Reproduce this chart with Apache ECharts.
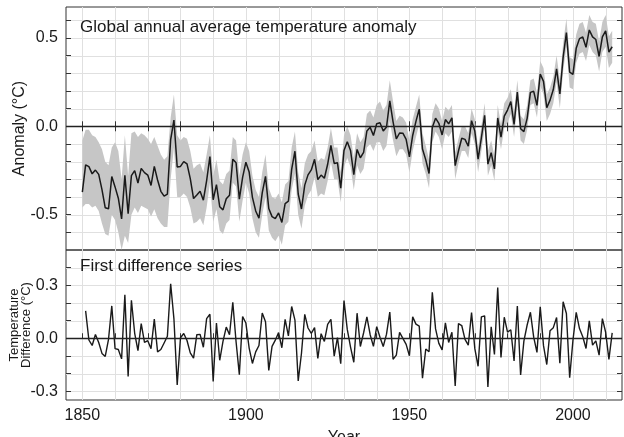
<!DOCTYPE html>
<html>
<head>
<meta charset="utf-8">
<script src="https://cdn.jsdelivr.net/npm/echarts@6/dist/echarts.min.js"></script>
<style>
html, body { margin: 0; padding: 0; background: #fff; }
#main { width: 624px; height: 437px; }
</style>
</head>
<body>
<div id="main"></div>
<script>
var firstYear = 1850;

// annual anomaly (°C), 1850..2012
var anomaly = [
  -0.373,-0.218,-0.228,-0.269,-0.248,-0.272,-0.358,-0.461,-0.467,-0.284,
  -0.343,-0.407,-0.524,-0.278,-0.494,-0.279,-0.251,-0.321,-0.238,-0.262,
  -0.276,-0.335,-0.227,-0.304,-0.368,-0.395,-0.384,-0.075,0.035,-0.230,
  -0.227,-0.200,-0.213,-0.296,-0.409,-0.389,-0.367,-0.418,-0.307,-0.171,
  -0.416,-0.330,-0.455,-0.473,-0.410,-0.390,-0.186,-0.206,-0.412,-0.289,
  -0.203,-0.259,-0.402,-0.479,-0.520,-0.377,-0.283,-0.465,-0.511,-0.522,
  -0.490,-0.544,-0.437,-0.424,-0.244,-0.141,-0.383,-0.468,-0.333,-0.275,
  -0.247,-0.187,-0.302,-0.276,-0.294,-0.215,-0.108,-0.210,-0.206,-0.350,
  -0.137,-0.087,-0.137,-0.273,-0.131,-0.178,-0.147,-0.026,-0.006,-0.052,
  0.014,0.020,-0.027,-0.004,0.144,0.025,-0.071,-0.038,-0.039,-0.074,
  -0.173,-0.052,0.028,0.097,-0.129,-0.190,-0.267,-0.007,0.046,0.017,
  -0.049,0.038,0.014,0.048,-0.223,-0.140,-0.068,-0.074,-0.113,0.032,
  -0.027,-0.186,-0.065,0.062,-0.214,-0.149,-0.241,0.047,-0.062,0.057,
  0.092,0.140,0.011,0.194,-0.014,-0.030,0.045,0.192,0.198,0.118,
  0.296,0.254,0.105,0.148,0.208,0.325,0.183,0.390,0.530,0.306,
  0.294,0.441,0.496,0.505,0.447,0.545,0.506,0.491,0.395,0.506,
  0.540,0.420,0.450
];

// uncertainty band, lower / upper edge
var bandLow = [
  -0.46,-0.44,-0.44,-0.46,-0.45,-0.48,-0.55,-0.61,-0.62,-0.50,
  -0.53,-0.60,-0.70,-0.62,-0.66,-0.50,-0.46,-0.49,-0.45,-0.46,
  -0.47,-0.51,-0.47,-0.52,-0.55,-0.57,-0.57,-0.30,-0.12,-0.40,
  -0.40,-0.38,-0.40,-0.46,-0.55,-0.54,-0.52,-0.56,-0.46,-0.32,
  -0.54,-0.47,-0.59,-0.61,-0.55,-0.53,-0.32,-0.34,-0.54,-0.42,
  -0.32,-0.38,-0.52,-0.60,-0.63,-0.50,-0.40,-0.59,-0.63,-0.65,
  -0.62,-0.67,-0.56,-0.54,-0.36,-0.27,-0.50,-0.58,-0.45,-0.39,
  -0.36,-0.29,-0.40,-0.38,-0.39,-0.31,-0.20,-0.30,-0.30,-0.43,
  -0.23,-0.18,-0.23,-0.36,-0.22,-0.27,-0.24,-0.12,-0.10,-0.14,
  -0.09,-0.09,-0.14,-0.11,0.03,-0.08,-0.17,-0.13,-0.13,-0.16,
  -0.26,-0.14,-0.06,0.01,-0.21,-0.27,-0.35,-0.09,-0.03,-0.06,
  -0.13,-0.04,-0.06,-0.03,-0.30,-0.21,-0.14,-0.14,-0.18,-0.04,
  -0.10,-0.26,-0.14,-0.01,-0.28,-0.22,-0.31,-0.02,-0.13,-0.01,
  0.02,0.07,-0.06,0.12,-0.08,-0.10,-0.02,0.12,0.13,0.05,
  0.23,0.18,0.03,0.07,0.13,0.25,0.10,0.31,0.45,0.22,
  0.21,0.36,0.41,0.42,0.37,0.46,0.42,0.40,0.31,0.42,
  0.45,0.33,0.36
];
var bandHigh = [
  -0.08,-0.02,-0.02,-0.05,-0.06,-0.09,-0.13,-0.20,-0.22,-0.12,
  -0.09,-0.14,-0.30,-0.05,-0.28,-0.04,-0.03,-0.06,-0.04,-0.05,
  -0.07,-0.10,-0.06,-0.11,-0.16,-0.19,-0.17,0.05,0.18,-0.05,
  -0.08,-0.06,-0.07,-0.14,-0.24,-0.22,-0.21,-0.26,-0.16,-0.05,
  -0.28,-0.19,-0.31,-0.33,-0.27,-0.25,-0.06,-0.08,-0.28,-0.16,
  -0.09,-0.14,-0.28,-0.36,-0.40,-0.26,-0.16,-0.35,-0.40,-0.41,
  -0.38,-0.43,-0.33,-0.31,-0.12,-0.03,-0.26,-0.35,-0.21,-0.16,
  -0.14,-0.08,-0.20,-0.18,-0.19,-0.12,-0.01,-0.12,-0.12,-0.26,
  -0.05,0.00,-0.05,-0.18,-0.04,-0.09,-0.06,0.07,0.09,0.05,
  0.12,0.14,0.09,0.12,0.26,0.14,0.03,0.06,0.05,0.02,
  -0.08,0.04,0.11,0.18,-0.04,-0.11,-0.19,0.07,0.13,0.10,
  0.03,0.11,0.09,0.12,-0.15,-0.07,0.00,0.00,-0.04,0.10,
  0.04,-0.12,0.00,0.13,-0.14,-0.08,-0.17,0.12,0.01,0.13,
  0.16,0.21,0.08,0.26,0.06,0.04,0.12,0.26,0.27,0.19,
  0.37,0.33,0.18,0.22,0.28,0.40,0.26,0.47,0.61,0.39,
  0.38,0.52,0.58,0.59,0.53,0.63,0.59,0.58,0.48,0.59,
  0.63,0.51,0.54
];

// first difference series, 1851..2012
var diffYear0 = 1851;
var difference = [
  0.155,-0.010,-0.041,0.021,-0.024,-0.086,-0.103,-0.006,0.183,-0.059,
  -0.064,-0.117,0.246,-0.216,0.215,0.028,-0.070,0.083,-0.024,-0.014,
  -0.059,0.108,-0.077,-0.064,-0.027,0.011,0.309,0.110,-0.265,0.003,
  0.027,-0.013,-0.083,-0.113,0.020,0.022,-0.051,0.111,0.136,-0.245,
  0.086,-0.125,-0.018,0.063,0.020,0.204,-0.020,-0.206,0.123,0.086,
  -0.056,-0.143,-0.077,-0.041,0.143,0.094,-0.182,-0.046,-0.011,0.032,
  -0.054,0.107,0.013,0.180,0.103,-0.242,-0.085,0.135,0.058,0.028,
  0.060,-0.115,0.026,-0.018,0.079,0.107,-0.102,0.004,-0.144,0.213,
  0.050,-0.050,-0.136,0.142,-0.047,0.031,0.121,0.020,-0.046,0.066,
  0.006,-0.047,0.023,0.148,-0.119,-0.096,0.033,-0.001,-0.035,-0.099,
  0.121,0.080,0.069,-0.226,-0.061,-0.077,0.260,0.053,-0.029,-0.066,
  0.087,-0.024,0.034,-0.271,0.083,0.072,-0.006,-0.039,0.145,-0.059,
  -0.159,0.121,0.127,-0.276,0.065,-0.092,0.288,-0.109,0.119,0.035,
  0.048,-0.129,0.183,-0.208,-0.016,0.075,0.147,0.006,-0.080,0.178,
  -0.042,-0.149,0.043,0.060,0.117,-0.142,0.207,0.140,-0.224,-0.012,
  0.147,0.055,0.009,-0.058,0.098,-0.039,-0.015,-0.096,0.111,0.034,
  -0.120,0.030
];

var xTicks = [1850, 1860, 1870, 1880, 1890, 1900, 1910, 1920, 1930, 1940, 1950, 1960, 1970, 1980, 1990, 2000, 2010];
var xLabels = [1850, 1900, 1950, 2000];
var topTicks = [-0.6, -0.5, -0.4, -0.3, -0.2, -0.1, 0, 0.1, 0.2, 0.3, 0.4, 0.5, 0.6];
var topLabels = [-0.5, 0, 0.5];
var botTicks = [-0.3, -0.2, -0.1, 0, 0.1, 0.2, 0.3, 0.4];
var botLabels = [-0.3, 0, 0.3];

var X_MIN = 1845, X_MAX = 2015;
var TOP_MIN = -0.7, TOP_MAX = 0.675;
var BOT_MIN = -0.35, BOT_MAX = 0.5;

var FONT = 'Liberation Sans, Arial, Helvetica, sans-serif';
var INK = '#1a1a1a';
var GRIDC = '#e0e0e0';

var anomalyPts = [], diffPts = [];
for (var i = 0; i < anomaly.length; i++) anomalyPts.push([firstYear + i, anomaly[i]]);
for (var k = 0; k < difference.length; k++) diffPts.push([diffYear0 + k, difference[k]]);

function xAx(grid, pos, labels, name) {
  return {
    type: 'value', gridIndex: grid, position: pos, min: X_MIN, max: X_MAX,
    axisLine: { show: false },
    axisTick: { show: true, inside: true, length: 5, customValues: xTicks, lineStyle: { color: '#333' } },
    axisLabel: labels ? {
      show: true, customValues: labels, margin: 8, color: INK, fontFamily: FONT, fontSize: 16,
      formatter: function (v) { return String(v); }
    } : { show: false },
    splitLine: { show: false },
    name: name || '', nameLocation: 'middle', nameGap: 30, nameMoveOverlap: false,
    nameTextStyle: { color: INK, fontFamily: FONT, fontSize: 16 }
  };
}
function yAx(grid, pos, min, max, ticks, labels, name, nameStyle, gap) {
  return {
    type: 'value', gridIndex: grid, position: pos, min: min, max: max,
    axisLine: { show: false },
    axisTick: { show: true, inside: true, length: 5, customValues: ticks, lineStyle: { color: '#333' } },
    axisLabel: labels ? {
      show: true, customValues: labels, margin: 8, color: INK, fontFamily: FONT, fontSize: 16,
      formatter: function (v) { return v.toFixed(1); }
    } : { show: false },
    splitLine: { show: false },
    name: name || '', nameLocation: 'middle', nameRotate: 90, nameGap: gap || 30, nameMoveOverlap: false,
    nameTextStyle: nameStyle || {}
  };
}

// light grid lines at the tick values, drawn under the band
function gridLines(xi, yi, xs, ys, ymin, ymax) {
  var data = [];
  xs.forEach(function (v) { data.push([v, 0]); });
  ys.forEach(function (v) { data.push([v, 1]); });
  return {
    type: 'custom', xAxisIndex: xi, yAxisIndex: yi, silent: true, z: 0,
    data: data,
    renderItem: function (params, api) {
      var v = api.value(0), p0, p1;
      if (api.value(1) === 0) {
        p0 = api.coord([v, ymin]); p1 = api.coord([v, ymax]);
        var x = Math.round(p0[0]) + 0.5;
        return { type: 'line', shape: { x1: x, y1: p0[1], x2: x, y2: p1[1] }, style: { stroke: GRIDC, lineWidth: 1 } };
      }
      p0 = api.coord([X_MIN, v]); p1 = api.coord([X_MAX, v]);
      var y = Math.round(p0[1]) + 0.5;
      return { type: 'line', shape: { x1: p0[0], y1: y, x2: p1[0], y2: y }, style: { stroke: GRIDC, lineWidth: 1 } };
    }
  };
}

var zeroLine = {
  silent: true, symbol: 'none', label: { show: false },
  lineStyle: { color: '#222', width: 1.3, type: 'solid' },
  data: [{ yAxis: 0 }]
};

var chart = echarts.init(document.getElementById('main'), null, { renderer: 'canvas' });
chart.setOption({
  animation: false,
  backgroundColor: '#fff',
  grid: [
    { left: 66, right: 2, top: 7, height: 243, show: true, borderColor: '#333', borderWidth: 1, outerBoundsMode: 'none' },
    { left: 66, right: 2, top: 250, height: 150, show: true, borderColor: '#333', borderWidth: 1, outerBoundsMode: 'none' }
  ],
  graphic: [
    { type: 'text', left: 80, top: 19, z: 10, style: { text: 'Global annual average temperature anomaly', font: '17px ' + FONT, fill: INK } },
    { type: 'text', left: 80, top: 258, z: 10, style: { text: 'First difference series', font: '17px ' + FONT, fill: INK } }
  ],
  xAxis: [
    xAx(0, 'bottom', null),
    xAx(0, 'top', null),
    xAx(1, 'bottom', xLabels, 'Year')
  ],
  yAxis: [
    yAx(0, 'left', TOP_MIN, TOP_MAX, topTicks, topLabels, 'Anomaly (°C)',
      { color: INK, fontFamily: FONT, fontSize: 16 }, 38),
    yAx(0, 'right', TOP_MIN, TOP_MAX, topTicks, null),
    yAx(1, 'left', BOT_MIN, BOT_MAX, botTicks, botLabels, 'Temperature\nDifference (°C)',
      { color: INK, fontFamily: FONT, fontSize: 13, lineHeight: 12 }, 34),
    yAx(1, 'right', BOT_MIN, BOT_MAX, botTicks, null)
  ],
  series: [
    gridLines(0, 0, xTicks, topTicks, TOP_MIN, TOP_MAX),
    gridLines(2, 2, xTicks, botTicks, BOT_MIN, BOT_MAX),
    {
      type: 'custom', xAxisIndex: 0, yAxisIndex: 0, silent: true, z: 1,
      data: [[firstYear, 0]],
      renderItem: function (params, api) {
        var pts = [];
        for (var a = 0; a < bandHigh.length; a++) pts.push(api.coord([firstYear + a, bandHigh[a]]));
        for (var b = bandLow.length - 1; b >= 0; b--) pts.push(api.coord([firstYear + b, bandLow[b]]));
        return { type: 'polygon', shape: { points: pts }, style: { fill: '#c6c6c6', stroke: null } };
      }
    },
    {
      type: 'line', xAxisIndex: 0, yAxisIndex: 0, z: 3,
      data: anomalyPts, showSymbol: false, symbol: 'none',
      lineStyle: { color: INK, width: 1.5 },
      markLine: zeroLine
    },
    {
      type: 'line', xAxisIndex: 2, yAxisIndex: 2, z: 3,
      data: diffPts, showSymbol: false, symbol: 'none',
      lineStyle: { color: INK, width: 1.4 },
      markLine: zeroLine
    }
  ]
});
</script>
</body>
</html>
